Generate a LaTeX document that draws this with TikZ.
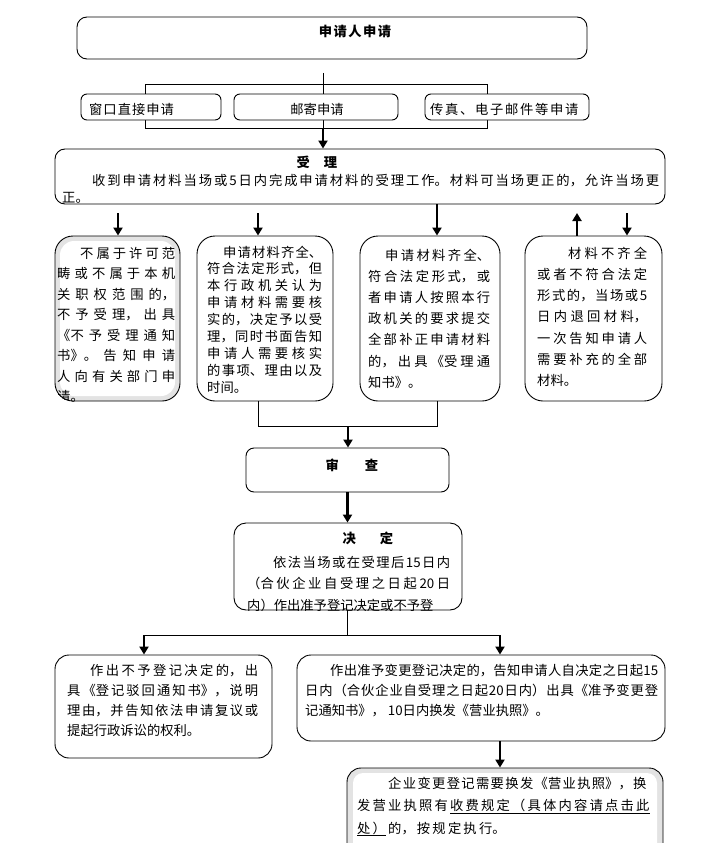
\documentclass[tikz,border=0pt]{standalone}
\usepackage{fontspec}
\setmainfont{Noto Sans CJK SC}
\usetikzlibrary{arrows.meta}
\XeTeXlinebreaklocale "zh"
\XeTeXlinebreakskip=0pt plus 1pt
\newskip\ulsk
\def\myspci#1#2{#1\ifx\relax#2\else\hskip\ulsk\expandafter\myspci\expandafter#2\fi}
\newcommand\myspc[2]{\ulsk=#1\relax\myspci#2\relax\relax}
\newcommand\pfont[2]{\fontsize{13.3pt}{#1}\selectfont\XeTeXlinebreakskip=0pt plus #2\relax\tolerance=9999\relax\hbadness=10000\relax}
\newcommand\lbsk[1]{\XeTeXlinebreakskip=#1\relax}
\newcommand\nofill{\parfillskip=0pt\relax}
\newcommand\myul[2]{\ulsk=#1\relax\setbox0\hbox{\myspci#2\relax\relax}\leavevmode\vtop{\copy0\kern1.2pt\hrule width\wd0 height0.7pt}}
\begin{document}
\begin{tikzpicture}[x=1pt,y=-1pt,
  box/.style={draw, line width=0.9pt, fill=white, inner sep=0pt, rounded corners=#1},
  box/.default=8pt,
  band/.style={fill=white, inner sep=0pt, rounded corners=#1},
  txt/.style={inner sep=0pt, anchor=base west, align=justify},
  lbl/.style={inner sep=0pt, anchor=base, font=\fontsize{13.3pt}{16pt}\selectfont},
  hd/.style={inner sep=0pt, anchor=base, font=\bfseries\fontsize{13.3pt}{16pt}\selectfont},
  conn/.style={line width=0.9pt},
  arr/.style={line width=2.2pt, -{Triangle[width=9pt,length=8pt]}},
]
\useasboundingbox (0,0) rectangle (722,843);
\clip (0,0) rectangle (722,843);
\fill[white] (0,0) rectangle (722,843);

% top box
\node[box=10pt, minimum width=510pt, minimum height=42pt] (top) at (332,38) {};
\node[hd] (toptxt) at (355,37) {\myspc{1.5pt}{申请人申请}};

% line and bracket behind the three ways
\coordinate (c0) at (323,73);
\coordinate (brb) at (323,128);
\coordinate (bl) at (145,84);
\coordinate (br) at (487,128);
\draw[conn] (c0) -- (brb);
\draw[conn] (bl) rectangle (br);

\node[box=6pt, minimum width=140pt, minimum height=26pt] (w1) at (151,107) {};
\node[lbl, anchor=base west] (w1t) at (89,114) {\myspc{1pt}{窗口直接申请}};
\node[box=6pt, minimum width=164pt, minimum height=26pt] (w2) at (316,107) {};
\node[lbl] (w2t) at (317,114) {\myspc{0pt}{邮寄申请}};
\node[box=6pt, minimum width=164pt, minimum height=26pt] (w3) at (507,107) {};
\node[lbl, anchor=base west] (w3t) at (430,114) {\myspc{1.7pt}{传真、电子邮件等申请}};

% accept
\node[box=10pt, minimum width=610pt, minimum height=55pt] (sl) at (360,176.5) {};
\draw[arr] (brb) -- (brb |- sl.north);
\node[hd] (slt) at (317,167) {受\hspace{14pt}理};
\node[txt, text width=597pt, font=\pfont{17pt}{10pt}] (slx) at (62,185) {\hspace*{30pt}收到申请材料当场或5日内完成申请材料的受理工作。材料可当场更正的，允许当场更\break 正。};

% four boxes
\node[box=18pt, fill=gray!22, minimum width=125pt, minimum height=165pt] (n1) at (117.5,318.5) {};
\node[band=14pt, minimum width=115pt, minimum height=155pt] (n1in) at (n1.center) {};
\node[box=18pt, minimum width=136pt, minimum height=165pt] (n2) at (265,318.5) {};
\node[box=18pt, minimum width=140pt, minimum height=165pt] (n3) at (430,318.5) {};
\node[box=18pt, minimum width=137pt, minimum height=165pt] (n4) at (593.5,318.5) {};

\begin{scope}
\clip[rounded corners=18pt] (n1.south west) rectangle (n1.north east);
\node[txt, text width=118pt, font=\pfont{20.5pt}{10pt}] (n1t) at (57,258) {\hspace*{23pt}不属于许可范\break 畴或不属于本机\break 关职权范围的，\break 不予受理，出具\break 《不予受理通知\break 书》。告知申请\break 人向有关部门申\break 请。};
\end{scope}
\node[txt, text width=115pt, font=\pfont{16.9pt}{10pt}] (n2t) at (207,257) {\hspace*{16pt}申请材料齐全、\break 符合法定形式，但\break 本行政机关认为\break 申请材料需要核\break 实的，决定予以受\break 理，同时书面告知\break 申请人需要核实\break 的事项、理由以及\break 时间。};
\node[txt, text width=122pt, font=\pfont{21.2pt}{10pt}] (n3t) at (368,260) {\hspace*{17pt}申请材料齐全、\break 符合法定形式，或\break 者申请人按照本行\break 政机关的要求提交\break 全部补正申请材料\break 的，出具《受理通\break 知书》。};
\node[txt, text width=110pt, font=\pfont{21.3pt}{10pt}] (n4t) at (537,258) {\hspace*{31pt}材料不齐全\break 或者不符合法定\break 形式的，当场或5\break 日内退回材料，\break 一次告知申请人\break 需要补充的全部\break 材料。};

\coordinate (a1) at (118,213);
\coordinate (a2) at (258,213);
\coordinate (x2) at (258,0);
\coordinate (x3) at (437,0);
\coordinate (up) at (577,213);
\coordinate (dn) at (627,213);
\draw[arr] (a1) -- (a1 |- n1.north);
\draw[arr] (a2) -- (a2 |- n2.north);
\draw[arr] (x3 |- sl.south) -- (x3 |- n3.north);
\draw[arr] (up |- n4.north) -- (up);
\draw[arr] (dn) -- (dn |- n4.north);

% review
\coordinate (u) at (348,426);
\draw[conn] (x2 |- n2.south) -- (x2 |- u) -- (x3 |- u) -- (x3 |- n3.south);
\node[box=8pt, minimum width=203pt, minimum height=44pt] (sc) at (347.5,470) {};
\node[hd] (sct) at (352,470) {审\hspace{26pt}查};
\draw[arr] (u) -- (u |- sc.north);

% decision
\node[box=12pt, minimum width=228pt, minimum height=87pt] (jd) at (348,566.5) {};
\draw[arr] (sc.south) -- (sc.south |- jd.north);
\node[hd] (jdt) at (368,543) {决\hspace{24pt}定};
\begin{scope}
\clip[rounded corners=12pt] (jd.south west) rectangle (jd.north east);
\node[txt, text width=203pt, font=\pfont{21.5pt}{10pt}] (jdx) at (247,567) {\nofill\hspace*{26pt}依法当场或在受理后15日内\break （合伙企业自受理之日起20日\break 内）作出准予登记决定或不予登};
\end{scope}

% outcomes
\coordinate (j) at (347,635);
\coordinate (jl) at (144,635);
\coordinate (jr) at (500,635);
\draw[conn] (j |- jd.south) -- (j);
\draw[conn] (jl) -- (jr);
\node[box=14pt, minimum width=217pt, minimum height=103pt] (ny) at (163.5,706.5) {};
\node[box=14pt, minimum width=368pt, minimum height=86pt] (zy) at (481,698) {};
\draw[arr] (jl) -- (jl |- ny.north);
\draw[arr] (jr) -- (jr |- zy.north);
\node[txt, text width=191pt, font=\pfont{20pt}{10pt}] (nyt) at (67,675) {\hspace*{23pt}作出不予登记决定的，出\break 具《登记驳回通知书》，说明\break 理由，并告知依法申请复议或\break 提起行政诉讼的权利。};
\node[txt, text width=353pt, font=\pfont{20pt}{10pt}] (zyt) at (305,675) {\hspace*{25pt}作出准予变更登记决定的，告知申请人自决定之日起15\break 日内（合伙企业自受理之日起20日内）出具《准予变更登\break 记通知书》， 10日内换发《营业执照》。};

% licence box
\node[box=14pt, fill=gray!22, minimum width=316pt, minimum height=110pt] (bt) at (505,823) {};
\node[band=10pt, minimum width=304pt, minimum height=100pt] (btin) at (bt.center) {};
\draw[arr] (jr |- zy.south) -- (jr |- bt.north);
\node[txt, align=left, text width=305pt, font=\pfont{22.5pt}{0pt}] (btx) at (357,788) {\lbsk{1.35pt}\hspace*{31pt}企业变更登记需要换发《营业执照》，换\par\lbsk{2.2pt}发营业执照有\hskip2.2pt\myul{2.2pt}{收费规定（具体内容请点击此}\par\myul{2.2pt}{处）}\hskip2.2pt 的，按规定执行。};
\end{tikzpicture}
\end{document}
